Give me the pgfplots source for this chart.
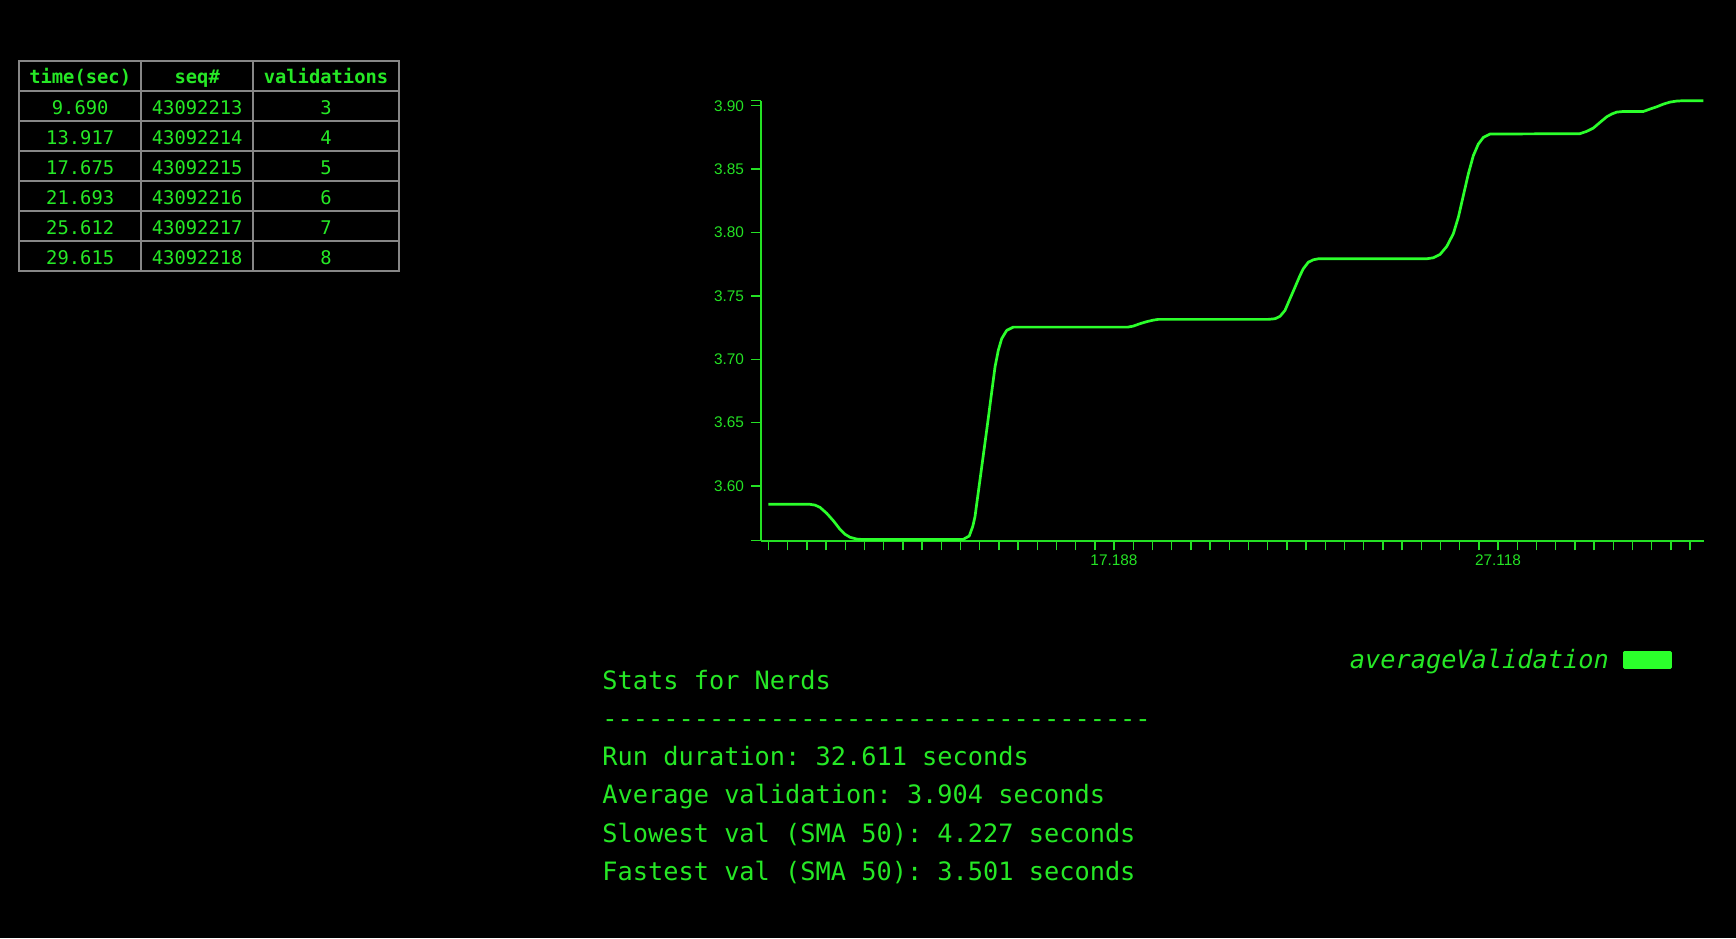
\documentclass[border=0pt]{standalone}
\usepackage{fontspec}
\setmonofont{DejaVu Sans Mono}
\newfontfamily\tickfont{Liberation Sans}
\usepackage{pgfplots}
\pgfplotsset{compat=1.18}
\definecolor{curvegreen}{RGB}{43,255,43}
\definecolor{textgreen}{RGB}{38,232,38}
\definecolor{axisgreen}{RGB}{36,225,36}
\definecolor{gridgray}{RGB}{135,135,135}
\begin{document}
\begin{tikzpicture}
\fill[black] (0pt,0pt) rectangle (868pt,469pt);
% ---- table ----
\begin{scope}[line width=0.9pt, draw=gridgray]
\draw (9.5pt,333.5pt) rectangle (199.5pt,438.5pt);
\foreach \yy in {423.5,408.5,393.5,378.5,363.5,348.5} {\draw (9.5pt,\yy pt) -- (199.5pt,\yy pt);}
\foreach \xx in {70.65,126.5} {\draw (\xx pt,333.5pt) -- (\xx pt,438.5pt);}
\end{scope}
\begin{scope}[every node/.style={anchor=base, inner sep=0pt, text=textgreen, font=\ttfamily\fontsize{9.4}{11}\selectfont}]
\node[font=\ttfamily\bfseries\fontsize{9.4}{11}\selectfont] at (40.1pt,427.3pt) {time(sec)};
\node[font=\ttfamily\bfseries\fontsize{9.4}{11}\selectfont] at (98.6pt,427.3pt) {seq\#};
\node[font=\ttfamily\bfseries\fontsize{9.4}{11}\selectfont] at (163pt,427.3pt) {validations};
\node at (40.1pt,411.5pt) {9.690};   \node at (98.6pt,411.5pt) {43092213}; \node at (163pt,411.5pt) {3};
\node at (40.1pt,396.5pt) {13.917};  \node at (98.6pt,396.5pt) {43092214}; \node at (163pt,396.5pt) {4};
\node at (40.1pt,381.5pt) {17.675};  \node at (98.6pt,381.5pt) {43092215}; \node at (163pt,381.5pt) {5};
\node at (40.1pt,366.5pt) {21.693};  \node at (98.6pt,366.5pt) {43092216}; \node at (163pt,366.5pt) {6};
\node at (40.1pt,351.5pt) {25.612};  \node at (98.6pt,351.5pt) {43092217}; \node at (163pt,351.5pt) {7};
\node at (40.1pt,336.5pt) {29.615};  \node at (98.6pt,336.5pt) {43092218}; \node at (163pt,336.5pt) {8};
\end{scope}
% ---- stats ----
\begin{scope}[every node/.style={anchor=base west, inner sep=0pt, text=textgreen, font=\ttfamily\fontsize{12.65}{15}\selectfont}]
\node at (301pt,124pt) {Stats for Nerds};
\node at (301pt,105pt) {------------------------------------};
\node at (301pt,86pt) {Run duration: 32.611 seconds};
\node at (301pt,67pt) {Average validation: 3.904 seconds};
\node at (301pt,48pt) {Slowest val (SMA 50): 4.227 seconds};
\node at (301pt,29pt) {Fastest val (SMA 50): 3.501 seconds};
\end{scope}
% ---- chart ----
\begin{axis}[
  at={(380.35pt,198.65pt)}, anchor=south west,
  scale only axis, width=471.65pt, height=220pt,
  xmin=8.052, xmax=32.445, ymin=3.5569, ymax=3.904,
  axis x line*=bottom, axis y line*=left,
  x axis line style={-}, y axis line style={-},
  axis line style={draw=axisgreen, line width=1pt},
  tick align=outside, major tick length=4.8pt,
  tick style={draw=axisgreen, line width=0.7pt},
  xtick={8.251,8.7475,...,32.1}, xticklabels={},
  extra x ticks={17.188,27.118}, extra x tick labels={17.188,27.118},
  extra x tick style={xticklabel style={yshift=1.1pt}},
  ytick={3.60,3.65,3.70,3.75,3.80,3.85,3.90},
  yticklabels={3.60,3.65,3.70,3.75,3.80,3.85,3.90},
  extra y ticks={3.5569,3.904}, extra y tick labels={,},
  tick label style={font=\tickfont\fontsize{7.7}{9}\selectfont, text=axisgreen},
  clip=false,
  legend plot pos=right,
  legend style={at={(0.966,-0.271)}, anchor=east, draw=none, fill=none,
    inner sep=0pt, column sep=5pt, text=textgreen,
    font=\ttfamily\itshape\fontsize{12.65}{15}\selectfont},
  legend image code/.code={\fill[curvegreen] (0pt,-3.85pt) rectangle (23pt,3.85pt);},
]
\addplot[curvegreen, line width=1.35pt, line join=round] coordinates {
(8.251,3.5856) (9.327,3.5856)
(9.456,3.5850) (9.586,3.5832) (9.759,3.5785) (9.929,3.5727) (10.102,3.5659) (10.232,3.5620) (10.361,3.5596) (10.535,3.5582) (10.70,3.5578)
(13.249,3.5578)
(13.291,3.5580) (13.444,3.5606) (13.534,3.5680) (13.593,3.5758) (13.896,3.6441) (14.111,3.6939) (14.196,3.7071) (14.284,3.7163) (14.413,3.7228) (14.584,3.7254)
(17.550,3.7254)
(17.687,3.7262) (17.860,3.7281) (18.034,3.7297) (18.204,3.7309) (18.334,3.7315)
(21.178,3.7315)
(21.351,3.7320) (21.481,3.7339) (21.610,3.7386) (21.739,3.7478) (21.869,3.7569) (21.998,3.7661) (22.083,3.7714) (22.213,3.7766) (22.342,3.7785) (22.471,3.7793)
(25.274,3.7793)
(25.445,3.7801) (25.618,3.7827) (25.792,3.7890) (25.962,3.7990) (26.092,3.8120) (26.221,3.8291) (26.350,3.8462) (26.479,3.8606) (26.609,3.8698) (26.738,3.8750) (26.911,3.8777)
(29.239,3.8780)
(29.412,3.8798) (29.583,3.8824) (29.756,3.8869) (29.929,3.8913) (30.058,3.8935) (30.188,3.8950) (30.358,3.8955)
(30.876,3.8955)
(31.049,3.8974) (31.222,3.8992) (31.393,3.9013) (31.566,3.9029) (31.739,3.9037) (31.910,3.9040)
(32.427,3.9040)
};
\addlegendentry{averageValidation}
\end{axis}
\end{tikzpicture}
\end{document}
